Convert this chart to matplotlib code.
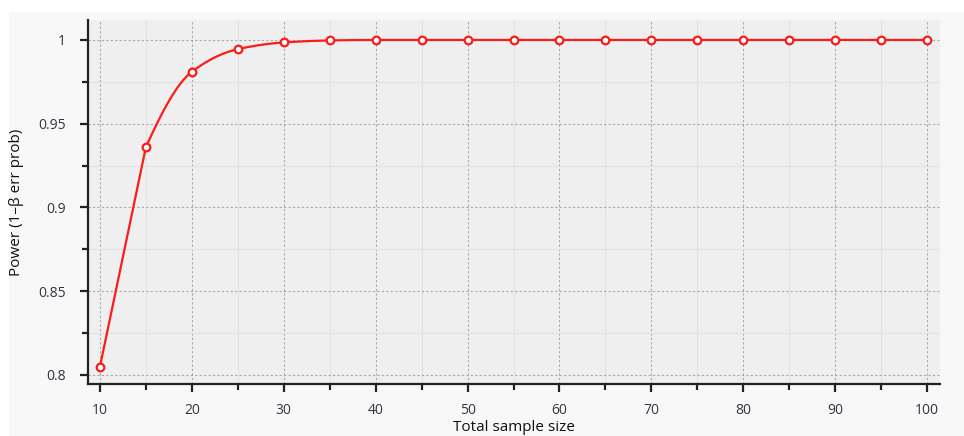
import numpy as np
import matplotlib.pyplot as plt
from matplotlib.patches import Rectangle
from matplotlib.ticker import MultipleLocator

# data
sample_size = [10, 15, 20, 25, 30, 35, 40, 45, 50, 55, 60, 65, 70, 75, 80, 85, 90, 95, 100]
power = [0.805, 0.936, 0.981, 0.9945, 0.9985, 0.9997, 1.0, 1.0, 1.0, 1.0,
         1.0, 1.0, 1.0, 1.0, 1.0, 1.0, 1.0, 1.0, 1.0]


def pchip(x, y, n=20):
    """Monotone cubic curve through the points (for drawing only)."""
    x = np.asarray(x, float)
    y = np.asarray(y, float)
    h = np.diff(x)
    d = np.diff(y) / h
    m = np.zeros_like(y)
    for k in range(1, len(y) - 1):
        if d[k - 1] * d[k] > 0:
            w1 = 2 * h[k] + h[k - 1]
            w2 = h[k] + 2 * h[k - 1]
            m[k] = (w1 + w2) / (w1 / d[k - 1] + w2 / d[k])
    m[0] = ((2 * h[0] + h[1]) * d[0] - h[0] * d[1]) / (h[0] + h[1])
    m[-1] = d[-1]
    xs, ys = [], []
    for k in range(len(h)):
        t = np.linspace(0, 1, n, endpoint=False)
        h00 = 2 * t**3 - 3 * t**2 + 1
        h10 = t**3 - 2 * t**2 + t
        h01 = -2 * t**3 + 3 * t**2
        h11 = t**3 - t**2
        xs.append(x[k] + t * h[k])
        ys.append(h00 * y[k] + h10 * h[k] * m[k] + h01 * y[k + 1] + h11 * h[k] * m[k + 1])
    xs.append([x[-1]])
    ys.append([y[-1]])
    return np.concatenate(xs), np.concatenate(ys)


plt.rcParams['font.family'] = ['Open Sans', 'DejaVu Sans']

fig = plt.figure(figsize=(9.64, 4.36), dpi=100)
fig.patch.set_facecolor('white')
fig.patches.append(Rectangle((9 / 964, 0), 1, 1 - 12 / 436, transform=fig.transFigure,
                             facecolor='#f8f8f8', edgecolor='none', zorder=-1))

ax = fig.add_axes([88 / 964, 52 / 436, (940 - 88) / 964, (384 - 20) / 436])
ax.set_facecolor('#efefef')

# first segment is drawn straight, the rest as a smooth curve
xs, ys = pchip(sample_size[1:], power[1:])
xs = np.concatenate([[sample_size[0]], xs])
ys = np.concatenate([[power[0]], ys])
ax.plot(xs, ys, color='#ff1a1a', lw=1.6, zorder=3)
ax.plot(sample_size, power, 'o', ms=5.5, mfc='white', mec='#ff1a1a', mew=1.6, zorder=4,
        clip_on=False)

ax.set_xlim(8.7, 101.4)
ax.set_ylim(0.7946, 1.0119)

ax.xaxis.set_major_locator(MultipleLocator(10))
ax.xaxis.set_minor_locator(MultipleLocator(5))
ax.yaxis.set_minor_locator(MultipleLocator(0.025))
ax.set_yticks([0.8, 0.85, 0.9, 0.95, 1.0])
ax.set_yticklabels(['0.8', '0.85', '0.9', '0.95', '1'])

ax.grid(which='major', color='#a8a8a8', ls=(0, (2, 2)), lw=0.8)
ax.grid(which='minor', color='#e2e2e2', ls='-', lw=0.8)
ax.set_axisbelow(True)

for s in ['top', 'right']:
    ax.spines[s].set_visible(False)
for s in ['left', 'bottom']:
    ax.spines[s].set_color('#222222')
    ax.spines[s].set_linewidth(1.6)

ax.tick_params(which='both', direction='out', color='#222222', width=1.6)
ax.tick_params(which='major', length=6, labelsize=10, labelcolor='#333344')
ax.tick_params(axis='x', which='major', pad=8)
ax.tick_params(axis='y', which='major', pad=10)
ax.tick_params(which='minor', length=4)

ax.set_xlabel('Total sample size', fontsize=11, labelpad=1, color='#111111')
ax.set_ylabel('Power (1\u2013\u03b2 err prob)', fontsize=11, labelpad=10, color='#111111')

fig.savefig('out.png', dpi=100, facecolor=fig.get_facecolor())
